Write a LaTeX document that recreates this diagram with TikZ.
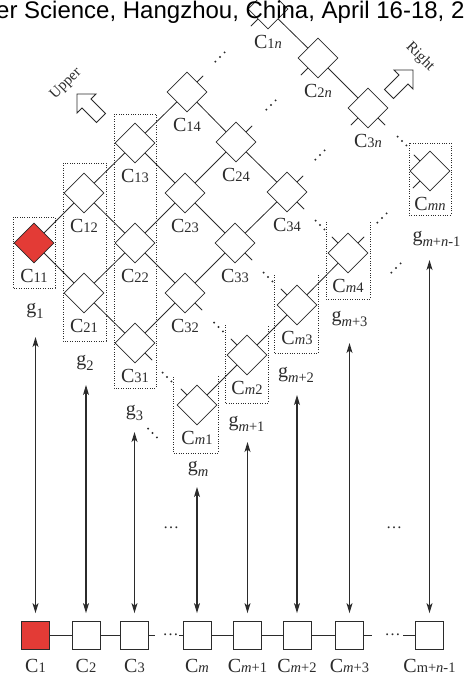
\documentclass[tikz,border=0pt]{standalone}
\usepackage{fontspec}
\setmainfont{Liberation Serif}
\newfontfamily\hdrfont{Liberation Sans}
\usetikzlibrary{shapes.geometric,arrows.meta}

\definecolor{ink}{HTML}{2B2B2B}
\definecolor{cellred}{HTML}{E33B36}

% small index text used in the cell and gene labels
\newcommand\subsz[1]{{\fontsize{14.5}{16}\selectfont #1}}
\newcommand\lblC[1]{C\subsz{#1}}
\newcommand\lblG[1]{g\raisebox{-5pt}{\subsz{#1}}}

% a diamond cell with its label underneath
\newcommand\cellat[5]{%
  \node[cell,#5] (#1) at (#2,#3) {};
  \node[clabel] (#1l) at (#2,#3+39) {\lblC{#4}};
}
% three dots along a diagonal
\newcommand\dotsup[2]{%
  \foreach \k in {-1,0,1} \fill[ink] (#1+4.6*\k,#2-4.6*\k) circle (1.05);
}
\newcommand\dotsdown[2]{%
  \foreach \k in {-1,0,1} \fill[ink] (#1+4.4*\k,#2+4.4*\k) circle (1.05);
}

\begin{document}
\begin{tikzpicture}[x=1pt,y=-1pt,
  every node/.style={font=\fontsize{20}{24}\selectfont, text=ink},
  cell/.style={diamond, aspect=1, draw=ink, fill=white, line width=0.8pt,
    minimum width=40pt, minimum height=40pt, inner sep=0pt},
  clabel/.style={anchor=base, inner sep=0pt},
  glabel/.style={anchor=base, inner sep=0pt},
  wire/.style={draw=ink, line width=0.8pt},
  dotbox/.style={draw=ink, line width=0.6pt, dash pattern=on 1pt off 1.4pt},
  sq/.style={rectangle, draw=ink, fill=white, line width=0.8pt,
    minimum size=28pt, inner sep=0pt},
  dbl/.style={{Stealth[length=10pt,width=6pt,inset=2.5pt]}-{Stealth[length=10pt,width=6pt,inset=2.5pt]},
    draw=ink, line width=1.1pt},
  dotsnode/.style={anchor=base, inner sep=0pt, font=\fontsize{16}{18}\selectfont},
  hollow/.style={draw=ink, fill=white, line width=0.9pt, line join=miter},
]
\useasboundingbox (0,0) rectangle (464,681);

% ---------- grouping boxes ----------
\draw[dotbox] (13,217) rectangle (55,288);
\draw[dotbox] (63,163) rectangle (106,341);
\draw[dotbox] (114,114) rectangle (156,388);
\draw[dotbox] (173,377) -- (173,453) -- (218,453) -- (218,375);
\draw[dotbox] (225,325) -- (225,403) -- (268,403) -- (268,325);
\draw[dotbox] (274,275) -- (274,353) -- (318,353) -- (318,275);
\draw[dotbox] (326,222) -- (326,299) -- (370,299) -- (370,222);
\draw[dotbox] (409,143) rectangle (451,215);

% ---------- lattice of cells ----------
\cellat{c11}{34}{243}{11}{fill=cellred}
\cellat{c12}{84}{193}{12}{}
\cellat{c13}{135}{143}{13}{}
\cellat{c14}{187}{92}{14}{}
\cellat{c1n}{268}{9}{1\textit{n}}{}
\cellat{c21}{84}{293}{21}{}
\cellat{c22}{135}{243}{22}{}
\cellat{c23}{185}{193}{23}{}
\cellat{c24}{236}{142}{24}{}
\cellat{c2n}{318}{58}{2\textit{n}}{}
\cellat{c31}{135}{343}{31}{}
\cellat{c32}{185}{293}{32}{}
\cellat{c33}{235}{243}{33}{}
\cellat{c34}{287}{192}{34}{}
\cellat{c3n}{368}{108}{3\textit{n}}{}
\cellat{cm1}{197}{405}{\textit{m}1}{}
\cellat{cm2}{247}{355}{\textit{m}2}{}
\cellat{cm3}{297}{305}{\textit{m}3}{}
\cellat{cm4}{348}{253}{\textit{m}4}{}
\cellat{cmn}{430}{171}{\textit{mn}}{}

\foreach \a/\b in {c11/c12,c12/c13,c13/c14,c21/c22,c22/c23,c23/c24,
  c31/c32,c32/c33,c33/c34,c11/c21,c21/c31,c12/c22,c22/c32,c13/c23,
  c23/c33,c14/c24,c24/c34,c1n/c2n,c2n/c3n,cm1/cm2,cm2/cm3,cm3/cm4}
  \draw[wire] (\a) -- (\b);

% open neighbour links
\foreach \c in {c14,c24,c34,cm4} \draw[wire] (\c.45) -- ++(6,-6);
\foreach \c in {c31,c32,c33,c34,c3n} \draw[wire] (\c.-45) -- ++(7,7);
\foreach \c in {c1n,c2n,c3n,cmn} \draw[wire] (\c.-135) -- ++(-7,7);
\foreach \c in {cm1,cm2,cm3,cm4,cmn} \draw[wire] (\c.135) -- ++(-6,-6);

% continuation dots
\dotsup{220}{57}
\dotsup{271}{105}
\dotsup{320}{155}
\dotsup{382}{218}
\dotsup{396}{268}
\dotsdown{402}{141}
\dotsdown{320}{225}
\dotsdown{268}{277}
\dotsdown{218.5}{327}
\dotsdown{167}{377}
\dotsdown{152.5}{433}

% ---------- direction arrows ----------
\draw[hollow] (77,94) -- (96,94) -- (91,99) -- (105.5,113.5) -- (96.5,122.5)
  -- (82,108) -- (77,113) -- cycle;
\node[font=\fontsize{15}{17}\selectfont, rotate=45] (upper) at (66,84) {Upper};
\draw[hollow] (413,70) -- (394,70) -- (399,75) -- (384.5,89.5) -- (393.5,98.5)
  -- (408,84) -- (413,89) -- cycle;
\node[font=\fontsize{15}{17}\selectfont, rotate=-45] (right) at (420,57) {Right};

% ---------- gene labels ----------
\node[glabel] (g1) at (35,313) {\lblG{1}};
\node[glabel] (g2) at (85,365) {\lblG{2}};
\node[glabel] (g3) at (134.5,415) {\lblG{3}};
\node[glabel] (gm) at (198,471) {\lblG{\textit{m}}};
\node[glabel] (gm1) at (246.5,426) {\lblG{\textit{m}+1}};
\node[glabel] (gm2) at (296,377) {\lblG{\textit{m}+2}};
\node[glabel] (gm3) at (349.5,321) {\lblG{\textit{m}+3}};
\node[glabel] (gmn) at (436.5,241) {\lblG{\textit{m}+\textit{n}-1}};

% ---------- chromosome ----------
\node[sq, fill=cellred] (b1) at (35.5,635.5) {};
\node[sq] (b2) at (86,635.5) {};
\node[sq] (b3) at (134.5,635.5) {};
\node[sq] (bm) at (197,635.5) {};
\node[sq] (bm1) at (247.5,635.5) {};
\node[sq] (bm2) at (297,635.5) {};
\node[sq] (bm3) at (349.5,635.5) {};
\node[sq] (bmn) at (429.5,635.5) {};

\node[clabel] (b1l) at (35.5,672) {\lblC{1}};
\node[clabel] (b2l) at (86,672) {\lblC{2}};
\node[clabel] (b3l) at (134.5,672) {\lblC{3}};
\node[clabel] (bml) at (197,672) {\lblC{\textit{m}}};
\node[clabel] (bm1l) at (247.5,672) {\lblC{\textit{m}+1}};
\node[clabel] (bm2l) at (297,672) {\lblC{\textit{m}+2}};
\node[clabel] (bm3l) at (349.5,672) {\lblC{\textit{m}+3}};
\node[clabel] (bmnl) at (429.5,672) {\lblC{m+\textit{n}-1}};

\foreach \a/\b in {b1/b2,b2/b3,bm/bm1,bm1/bm2,bm2/bm3}
  \draw[wire] (\a) -- (\b);
\draw[wire] (b3.east) -- ++(6,0);
\draw[wire] (bm.west) -- ++(-4,0);
\draw[wire] (bm3.east) -- ++(8,0);
\draw[wire] (bmn.west) -- ++(-12,0);
\node[dotsnode] (gap1) at (170.5,635) {…};
\node[dotsnode] (gap2) at (392.5,635) {…};
\node[dotsnode] (gap3) at (171,528) {…};
\node[dotsnode] (gap4) at (394,528) {…};

% ---------- decoding arrows ----------
\coordinate (t1) at (35.5,337);
\coordinate (t2) at (86,385);
\coordinate (t3) at (134.5,432);
\coordinate (tm) at (197,487);
\coordinate (tm1) at (247.5,442);
\coordinate (tm2) at (297,395);
\coordinate (tm3) at (349.5,343);
\coordinate (tmn) at (429.5,260);
\foreach \b/\t in {b1/t1,b2/t2,b3/t3,bm/tm,bm1/tm1,bm2/tm2,bm3/tm3,bmn/tmn}
  \draw[dbl, shorten <=8pt] (\b.north) -- (\t);

% ---------- running header ----------
\node[anchor=base west, inner sep=0pt, text=black,
  font=\hdrfont\fontsize{24}{28}\selectfont] (hdr) at (-4,18)
  {er Science, Hangzhou, China, April 16-18, 2};
\end{tikzpicture}
\end{document}
